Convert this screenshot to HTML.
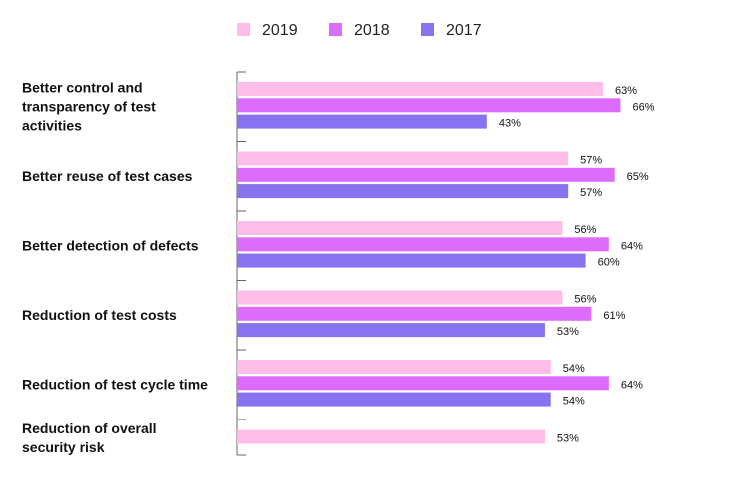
<!DOCTYPE html>
<html><head><meta charset="utf-8"><style>
body{margin:0;background:#fff;}
svg{display:block;font-family:"Liberation Sans",sans-serif;}
</style></head><body>
<svg width="743" height="482">
<g id="legend"></g>
<g id="plot"></g>
</svg>
<script>
const categories=[["Better control and","transparency of test","activities"],["Better reuse of test cases"],["Better detection of defects"],["Reduction of test costs"],["Reduction of test cycle time"],["Reduction of overall","security risk"]];
const seriesNames=["2019","2018","2017"];
const colors=["#fdbde6","#dd6bfb","#8872ef"];
const v2019=[63,57,56,56,54,53];
const v2018=[66,65,64,61,64,null];
const v2017=[43,57,60,53,54,null];
const series=[v2019,v2018,v2017];
const NS="http://www.w3.org/2000/svg";
function mk(t,a,p){const e=document.createElementNS(NS,t);for(const k in a)e.setAttribute(k,a[k]);p.appendChild(e);return e;}
const x0=237,scale=5.81;
const xs=v=>x0+v*scale;
const groupTop=i=>72+i*69.5;
const plot=document.getElementById('plot'),leg=document.getElementById('legend');
const lx=[237,329,421];
seriesNames.forEach((n,i)=>{
 const g=mk('g',{},leg);
 
 
 const r=mk('rect',{x:lx[i],y:23,width:13,height:13,fill:colors[i]},g);
 
 
 const t=mk('text',{x:lx[i]+25,y:35,'font-size':16,fill:'#222'},g);
 t.textContent=n;
 
 
});
const ax=mk('line',{x1:x0,y1:72,x2:x0,y2:455,stroke:'#666','stroke-width':1},plot);


for(let i=0;i<=categories.length;i++){
 const y=i<categories.length?groupTop(i):455;
 const tk=mk('line',{x1:x0,y1:y,x2:x0+9,y2:y,stroke:i==5?'#aaa':'#666','stroke-width':1},plot);
 
 
}
categories.forEach((lines,i)=>{
 const gt=groupTop(i);
 const nb=series.filter(s=>s[i]!=null).length;
 const centre=gt+10+(nb*16.3)/2;
 const t=mk('text',{x:22,'font-size':14,'font-weight':'bold',fill:'#111'},plot);
 
 
 const lh=19,start=centre-(lines.length-1)*lh/2+5;
 lines.forEach((l,j)=>{const s=mk('tspan',{x:22,y:start+j*lh},t);s.textContent=l;});
 series.forEach((s,k)=>{
  const v=s[i]; if(v==null)return;
  const y=gt+10+k*16.3;
  const b=mk('rect',{x:x0,y:y,width:xs(v)-x0,height:14,fill:colors[k]},plot);
  
  
  const vt=mk('text',{x:xs(v)+12,y:y+12,'font-size':11,fill:'#111'},plot);
  vt.textContent=v+'%';
  
  
 });
});
</script>
</body></html>
